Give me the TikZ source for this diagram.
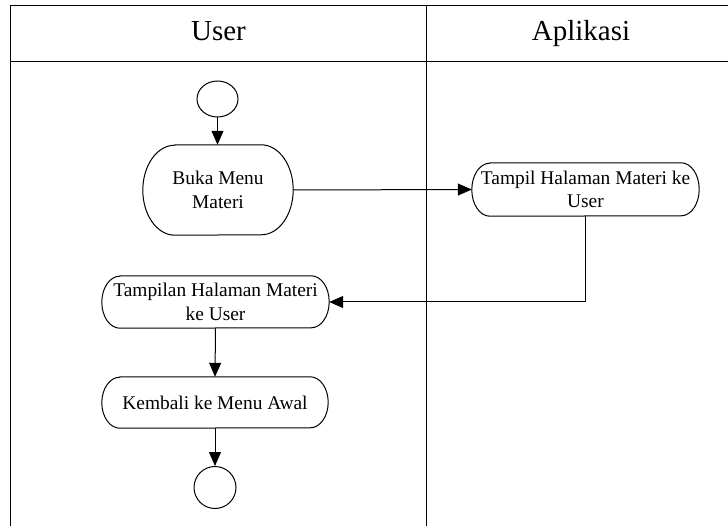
\documentclass[tikz,border=0pt]{standalone}
\usepackage{fontspec}
\setmainfont{Liberation Serif}
\usetikzlibrary{arrows.meta,shapes.geometric}

% outline of an activity: straight top and bottom, elliptic ends
\newcommand{\roundact}[3]{%
  \draw[actline] ([xshift=#2]#1.north west) -- ([xshift=-#2]#1.north east)
    arc[start angle=90,end angle=-90,x radius=#2,y radius=#3]
    -- ([xshift=#2]#1.south west)
    arc[start angle=270,end angle=90,x radius=#2,y radius=#3] -- cycle;}

\tikzset{
  actline/.style={line width=1pt,draw=black},
  acttext/.style={inner sep=0pt,align=center,
    font=\fontsize{19.4pt}{23.5pt}\selectfont},
  lanehead/.style={inner sep=0pt,anchor=base,
    font=\fontsize{29pt}{34pt}\selectfont},
  lanerule/.style={line width=1pt,draw=black},
  flow/.style={line width=1pt,draw=black,-{Triangle[length=14pt,width=12pt]}},
  state/.style={ellipse,draw=black,line width=1pt,inner sep=0pt}
}

\begin{document}
\begin{tikzpicture}[x=1pt,y=-1pt]
\useasboundingbox (0,0) rectangle (728,526);

% swimlane frame
\draw[lanerule] (10,526) -- (10,6) -- (728,6);
\draw[lanerule] (10,62) -- (728,62);
\draw[lanerule] (426,6) -- (426,526);

\node[lanehead] (huser) at (218.5,41) {User};
\node[lanehead] (happ) at (581,41) {Aplikasi};

% start and end states
\node[state,minimum width=41pt,minimum height=36pt] (start) at (217.5,99) {};
\node[state,minimum width=42pt,minimum height=42pt] (finish) at (215,487.5) {};

% activities
\node[acttext,minimum width=150pt,minimum height=90pt] (buka) at (218,190)
  {Buka Menu\\Materi};
\roundact{buka}{32pt}{45pt}

\node[acttext,minimum width=227pt,minimum height=53pt] (tampil) at (585.5,189.5)
  {Tampil Halaman Materi ke\\User};
\roundact{tampil}{18pt}{26.5pt}

\node[acttext,minimum width=227pt,minimum height=52pt] (tampilan) at (215.5,302)
  {Tampilan Halaman Materi\\ke User};
\roundact{tampilan}{18pt}{26pt}

\node[acttext,minimum width=226pt,minimum height=51pt] (kembali) at (215,402.5)
  {Kembali ke Menu Awal};
\roundact{kembali}{18pt}{25.5pt}

% control flow
\draw[flow] (start.south) -- (start.south |- buka.north);
\draw[flow] (buka.east) -- (tampil.west);
\draw[flow] (tampil.south) |- (tampilan.east);
\draw[flow] (tampilan.south) -- (kembali.north);
\draw[flow] (kembali.south) -- (finish.north);
\end{tikzpicture}
\end{document}
